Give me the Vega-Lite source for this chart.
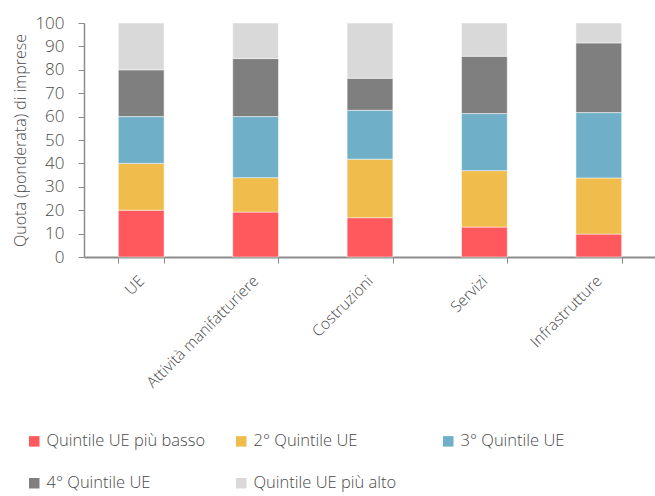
{
  "$schema": "https://vega.github.io/schema/vega-lite/v6.json",
  "autosize": "none",
  "width": 572,
  "height": 234,
  "padding": {"left": 84, "top": 23, "right": 0, "bottom": 239},
  "background": "white",
  "config": {
    "view": {"stroke": null},
    "font": "Open Sans",
    "axis": {"labelFont": "Open Sans", "titleFont": "Open Sans", "labelColor": "#4a4a4a", "titleColor": "#4a4a4a", "labelFontWeight": 300, "titleFontWeight": 300, "domainColor": "#8c8c8c", "tickColor": "#8c8c8c", "grid": false},
    "legend": {"labelFont": "Open Sans", "labelColor": "#4a4a4a", "labelFontWeight": 300}
  },
  "data": {
    "values": [
      {"settore": "UE", "quintile": "Quintile UE più basso", "q": 1, "quota": 20},
      {"settore": "UE", "quintile": "2° Quintile UE", "q": 2, "quota": 20},
      {"settore": "UE", "quintile": "3° Quintile UE", "q": 3, "quota": 20},
      {"settore": "UE", "quintile": "4° Quintile UE", "q": 4, "quota": 20},
      {"settore": "UE", "quintile": "Quintile UE più alto", "q": 5, "quota": 20},
      {"settore": "Attività manifatturiere", "quintile": "Quintile UE più basso", "q": 1, "quota": 19.2},
      {"settore": "Attività manifatturiere", "quintile": "2° Quintile UE", "q": 2, "quota": 14.7},
      {"settore": "Attività manifatturiere", "quintile": "3° Quintile UE", "q": 3, "quota": 26.1},
      {"settore": "Attività manifatturiere", "quintile": "4° Quintile UE", "q": 4, "quota": 24.8},
      {"settore": "Attività manifatturiere", "quintile": "Quintile UE più alto", "q": 5, "quota": 15.2},
      {"settore": "Costruzioni", "quintile": "Quintile UE più basso", "q": 1, "quota": 16.8},
      {"settore": "Costruzioni", "quintile": "2° Quintile UE", "q": 2, "quota": 25.0},
      {"settore": "Costruzioni", "quintile": "3° Quintile UE", "q": 3, "quota": 20.9},
      {"settore": "Costruzioni", "quintile": "4° Quintile UE", "q": 4, "quota": 13.7},
      {"settore": "Costruzioni", "quintile": "Quintile UE più alto", "q": 5, "quota": 23.6},
      {"settore": "Servizi", "quintile": "Quintile UE più basso", "q": 1, "quota": 12.8},
      {"settore": "Servizi", "quintile": "2° Quintile UE", "q": 2, "quota": 24.1},
      {"settore": "Servizi", "quintile": "3° Quintile UE", "q": 3, "quota": 24.4},
      {"settore": "Servizi", "quintile": "4° Quintile UE", "q": 4, "quota": 24.5},
      {"settore": "Servizi", "quintile": "Quintile UE più alto", "q": 5, "quota": 14.2},
      {"settore": "Infrastrutture", "quintile": "Quintile UE più basso", "q": 1, "quota": 9.8},
      {"settore": "Infrastrutture", "quintile": "2° Quintile UE", "q": 2, "quota": 24.0},
      {"settore": "Infrastrutture", "quintile": "3° Quintile UE", "q": 3, "quota": 27.9},
      {"settore": "Infrastrutture", "quintile": "4° Quintile UE", "q": 4, "quota": 29.8},
      {"settore": "Infrastrutture", "quintile": "Quintile UE più alto", "q": 5, "quota": 8.5}
    ]
  },
  "mark": {"type": "bar", "stroke": "white", "strokeWidth": 0.5},
  "encoding": {
    "x": {
      "field": "settore",
      "type": "nominal",
      "sort": ["UE", "Attività manifatturiere", "Costruzioni", "Servizi", "Infrastrutture"],
      "scale": {"paddingInner": 0.6, "paddingOuter": 0.3},
      "axis": {"title": null, "labelAngle": -45, "labelAlign": "right", "labelBaseline": "middle", "labelFontSize": 15.5, "labelPadding": 15, "ticks": true, "tickBand": "extent", "tickSize": 6, "domainWidth": 2}
    },
    "y": {
      "field": "quota",
      "type": "quantitative",
      "stack": "zero",
      "scale": {"domain": [0, 100], "nice": false},
      "axis": {"title": "Quota (ponderata) di imprese", "values": [0, 10, 20, 30, 40, 50, 60, 70, 80, 90, 100], "labelFontSize": 17, "titleFontSize": 16, "tickSize": 6, "labelPadding": 14, "titlePadding": 6, "domainWidth": 1.5}
    },
    "color": {
      "field": "quintile",
      "type": "nominal",
      "scale": {
        "domain": ["Quintile UE più basso", "2° Quintile UE", "3° Quintile UE", "4° Quintile UE", "Quintile UE più alto"],
        "range": ["#ff595e", "#f0bc4b", "#6fb0c8", "#7f7f7f", "#d9d9d9"]
      },
      "legend": {
        "title": null,
        "orient": "none",
        "legendX": -58,
        "legendY": 410,
        "direction": "horizontal",
        "columns": 3,
        "gridAlign": "all",
        "columnPadding": 27,
        "rowPadding": 25,
        "symbolType": "square",
        "symbolSize": 110,
        "symbolStrokeWidth": 0,
        "labelFontSize": 16.5,
        "labelOffset": 4,
        "labelLimit": 300
      }
    },
    "order": {"field": "q", "type": "quantitative", "sort": "ascending"}
  }
}
